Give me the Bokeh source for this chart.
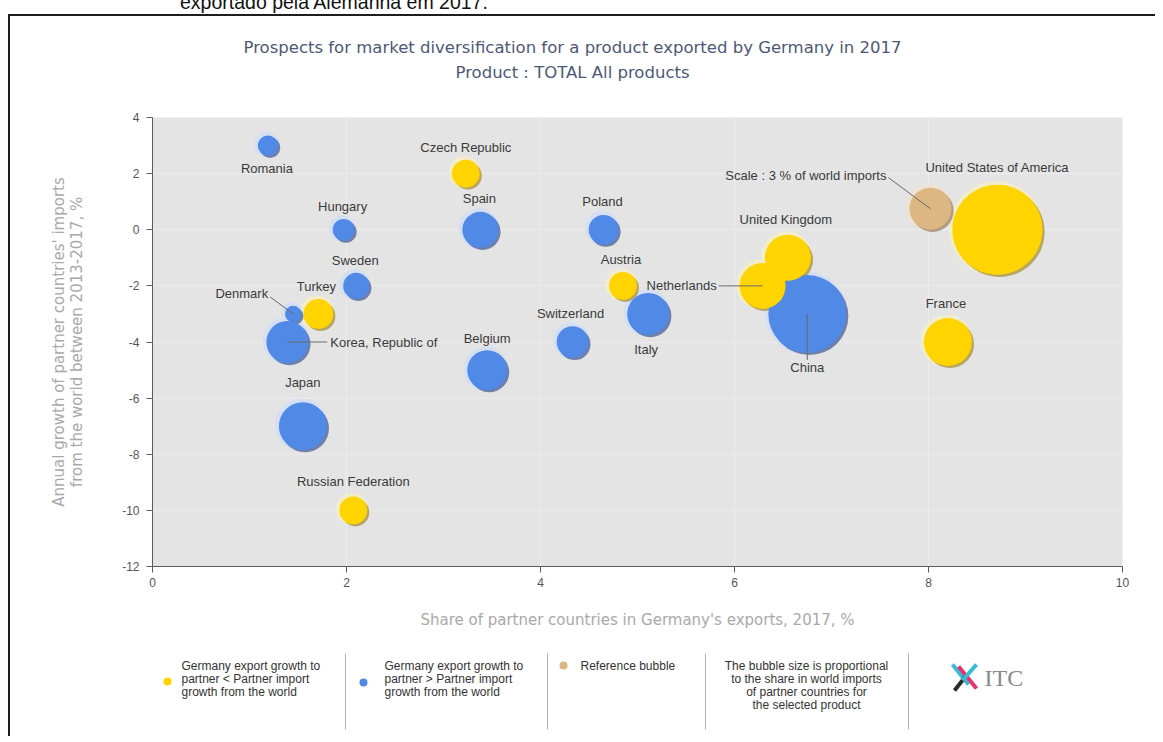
import math
from bokeh.plotting import figure
from bokeh.models import ColumnDataSource, Range1d, Div, FixedTicker, PrintfTickFormatter
from bokeh.layouts import column
from bokeh.transform import dodge
from bokeh.core.properties import value
from bokeh.embed import file_html
from bokeh.resources import INLINE

# ---------------- data ----------------
countries = ["United States of America", "China", "France", "Japan", "United Kingdom",
             "Netherlands", "Korea, Republic of", "Italy", "Belgium", "Spain",
             "Switzerland", "Turkey", "Poland", "Austria", "Russian Federation",
             "Czech Republic", "Sweden", "Hungary", "Romania", "Denmark"]
export_share = [8.71, 6.75, 8.20, 1.55, 6.55, 6.29, 1.39, 5.11, 3.45, 3.38,
                4.33, 1.71, 4.65, 4.85, 2.07, 3.23, 2.10, 1.97, 1.19, 1.45]
import_growth = [0, -3, -4, -7, -1, -2, -4, -3, -5, 0,
                 -4, -3, 0, -2, -10, 2, -2, 0, 3, -3]
world_import_share = [13.8, 10.3, 3.9, 3.9, 3.6, 3.6, 3.0, 3.0, 2.7, 2.2,
                      1.7, 1.5, 1.5, 1.3, 1.3, 1.3, 1.15, 0.8, 0.7, 0.45]
growth_below_partner = [True, False, True, False, True, True, False, False, False, False,
                        False, True, False, True, True, True, False, False, False, False]

ref_label = "Scale : 3 % of world imports"
ref_share = 3.0
ref_x = 8.02
ref_y = 0.75

x_ticks = [0, 2, 4, 6, 8, 10]
y_ticks = [-12, -10, -8, -6, -4, -2, 0, 2, 4]

title_lines = ["Prospects for market diversification for a product exported by Germany in 2017",
               "Product : TOTAL All products"]
x_label = "Share of partner countries in Germany's exports, 2017, %"
y_label = "Annual growth of partner countries' imports\nfrom the world between 2013-2017, %"
top_text = "exportado pela Alemanha em 2017."

legend_texts = ["Germany export growth to\npartner < Partner import\ngrowth from the world",
                "Germany export growth to\npartner > Partner import\ngrowth from the world",
                "Reference bubble"]
note_text = "The bubble size is proportional\nto the share in world imports\nof partner countries for\nthe selected product"

# ---------------- style / layout ----------------
YELLOW, YELLOW_SH, YELLOW_HALO = "#ffd400", "#a8903a", "#f2ecc8"
BLUE, BLUE_SH, BLUE_HALO = "#5089e6", "#4a5f95", "#d3def4"
TAN, TAN_SH, TAN_HALO = "#dcb683", "#9c8468", "#ece2d2"
REF_DIAM = 42.0
PXX, PXY = 97.0, 28.06   # px per data unit (for small pixel nudges)

W = 1145
HH, PH, QH = 91, 538, 91
FL, FR = 152, 1122       # page x of the plot frame (header/legend strips share it)

placement = {
    "United States of America": (0, -62, "center", None),
    "China": (0, 54, "center", (0, 46)),
    "France": (-2, -39, "center", None),
    "Japan": (0, -44, "center", None),
    "United Kingdom": (-2, -38, "center", None),
    "Netherlands": (-46, 0, "right", (-44, 0)),
    "Korea, Republic of": (43, 0, "left", (40, 0)),
    "Italy": (-2, 36, "center", None),
    "Belgium": (0, -32, "center", None),
    "Spain": (-1, -31, "center", None),
    "Switzerland": (-2, -29, "center", None),
    "Turkey": (-2, -27, "center", None),
    "Poland": (-1, -28, "center", None),
    "Austria": (-2, -26, "center", None),
    "Russian Federation": (0, -29, "center", None),
    "Czech Republic": (0, -26, "center", None),
    "Sweden": (-1, -25, "center", None),
    "Hungary": (-1, -23, "center", None),
    "Romania": (-1, 23, "center", None),
    "Denmark": (-25, -20, "right", (-23, -17)),
}

# ---------------- header strip (titles) ----------------
h = figure(width=W, height=HH, x_range=Range1d(FL, FR), y_range=Range1d(107, 16),
           output_backend="svg", toolbar_location=None, min_border=0,
           outline_line_color=None, background_fill_color="white", border_fill_color="white")
h.axis.visible = False
h.grid.visible = False
h.text(x=[572, 572], y=[47, 72], text=title_lines, text_align="center", text_baseline="middle",
       text_font=value("DejaVu Sans"), text_font_size="16.5px", text_color="#4e5876")

# ---------------- main figure ----------------
p = figure(width=W, height=PH, x_range=Range1d(0, 10), y_range=Range1d(-12, 4),
           output_backend="svg", toolbar_location=None,
           min_border_left=142, min_border_right=33, min_border_top=10, min_border_bottom=79,
           background_fill_color="#e4e4e4", border_fill_color="white", outline_line_color=None)

p.xaxis.ticker = FixedTicker(ticks=x_ticks)
p.yaxis.ticker = FixedTicker(ticks=y_ticks)
for ax in (p.xaxis[0], p.yaxis[0]):
    ax.formatter = PrintfTickFormatter(format="%d")
    ax.axis_line_color = "#5a5a5a"
    ax.major_tick_line_color = "#5a5a5a"
    ax.major_tick_out = 6
    ax.major_tick_in = 0
    ax.minor_tick_line_color = None
    ax.major_label_text_color = "#555555"
    ax.major_label_text_font = "Liberation Sans"
    ax.major_label_text_font_size = "12px"
    ax.axis_label_text_color = "#a9a9a9"
    ax.axis_label_text_font = "DejaVu Sans"
    ax.axis_label_text_font_style = "normal"
    ax.axis_label_text_font_size = "15px"
p.xaxis.axis_label = x_label
p.xaxis.axis_label_standoff = 21
p.yaxis.axis_label = y_label
p.yaxis.axis_label_text_line_height = 1.0
p.yaxis.axis_label_standoff = 33
p.yaxis.major_label_standoff = 7
p.grid.grid_line_color = "#ececec"
p.grid.grid_line_width = 1

fill = [YELLOW if b else BLUE for b in growth_below_partner]
shadow = [YELLOW_SH if b else BLUE_SH for b in growth_below_partner]
halo = [YELLOW_HALO if b else BLUE_HALO for b in growth_below_partner]
diam = [REF_DIAM * math.sqrt(s / ref_share) for s in world_import_share]

src = ColumnDataSource(dict(
    x=export_share + [ref_x], y=import_growth + [ref_y],
    size=diam + [REF_DIAM], halo_size=[d + 5 for d in diam] + [REF_DIAM + 5],
    fill=fill + [TAN], shadow=shadow + [TAN_SH], halo=halo + [TAN_HALO]))

p.scatter(x=dodge("x", -1.2 / PXX, range=p.x_range), y=dodge("y", 1.2 / PXY, range=p.y_range),
          size="halo_size", fill_color="halo", line_color=None, fill_alpha=0.9, source=src)
p.scatter(x=dodge("x", 2.2 / PXX, range=p.x_range), y=dodge("y", -2.2 / PXY, range=p.y_range),
          size="size", fill_color="shadow", line_color=None, fill_alpha=0.75, source=src)
p.scatter(x="x", y="y", size="size", fill_color="fill", line_color=None, source=src)

# labels
lab = dict(x=[], y=[], text=[], dx=[], dy=[], align=[])
lead = dict(x0=[], y0=[], x1=[], y1=[])
for c, xv, yv in zip(countries + [ref_label], export_share + [ref_x], import_growth + [ref_y]):
    if c == ref_label:
        dx, dy, al, le = (-44, -33, "right", (-42, -31))
    else:
        dx, dy, al, le = placement[c]
    lab["x"].append(xv); lab["y"].append(yv); lab["text"].append(c)
    lab["dx"].append(dx); lab["dy"].append(dy); lab["align"].append(al)
    if le is not None:
        lead["x0"].append(xv); lead["y0"].append(yv)
        lead["x1"].append(xv + le[0] / PXX); lead["y1"].append(yv - le[1] / PXY)

p.segment(x0="x0", y0="y0", x1="x1", y1="y1", source=ColumnDataSource(lead),
          line_color="#6a6a6a", line_width=1)
p.text(x="x", y="y", text="text", x_offset="dx", y_offset="dy", text_align="align",
       text_baseline="middle", source=ColumnDataSource(lab),
       text_font=value("Liberation Sans"), text_font_size="13px", text_color="#3a3a3a")

# ---------------- legend strip ----------------
q = figure(width=W, height=QH, x_range=Range1d(FL, FR), y_range=Range1d(736, 645),
           output_backend="svg", toolbar_location=None, min_border=0,
           outline_line_color=None, background_fill_color="white", border_fill_color="white")
q.axis.visible = False
q.grid.visible = False

q.segment(x0=[345, 547, 705, 908], y0=[653] * 4, x1=[345, 547, 705, 908], y1=[729] * 4,
          line_color="#b0b0b0", line_width=1)
q.scatter(x=[167, 363, 563], y=[681, 682, 665], size=[8, 8, 8],
          fill_color=[YELLOW, BLUE, TAN], line_color=None)
q.text(x=[181, 384, 580], y=[658, 658, 658], text=legend_texts, text_align="left", text_baseline="top",
       text_font=value("Liberation Sans"), text_font_size="12px", text_color="#333333",
       text_line_height=0.95)
q.text(x=[806], y=[658], text=[note_text], text_align="center", text_baseline="top",
       text_font=value("Liberation Sans"), text_font_size="12px", text_color="#333333",
       text_line_height=0.95)
# ITC logo
q.segment(x0=[952, 958, 954, 962], y0=[664, 666, 690, 680], x1=[968, 976, 965, 976], y1=[684, 688, 676, 664],
          line_color=["#36bdd6", "#e5336f", "#2b2b2b", "#36bdd6"], line_width=4)
q.text(x=[984], y=[677], text=["ITC"], text_align="left", text_baseline="middle",
       text_font=value("Liberation Serif"), text_font_size="24px", text_color="#8a8a8a")

top_div = Div(text=f"<div style=\"position:relative; top:-9px; left:180px; font-family:'Liberation Sans'; "
                   f"font-size:19.5px; line-height:22px; color:#111; white-space:nowrap\">{top_text}</div>",
              width=W + 10, height=14, margin=(0, 0, 0, 0), styles={"overflow": "hidden"})

framed = column(h, p, q, spacing=0, margin=(0, 0, 0, 8),
                styles={"border-left": "2px solid #1e1e1e", "border-top": "2px solid #1e1e1e"})
layout = column(top_div, framed, spacing=0, margin=(0, 0, 0, 0))

open("out.html", "w").write(file_html(layout, INLINE))
